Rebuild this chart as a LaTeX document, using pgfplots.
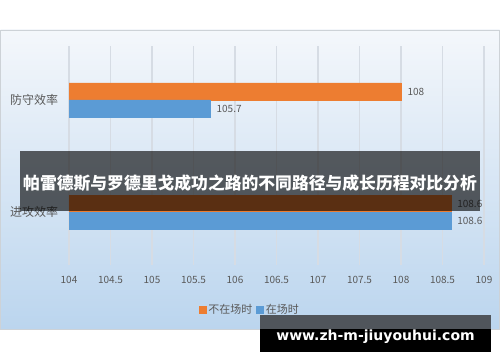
\documentclass[border=0pt]{standalone}
\usepackage{pgfplots}
\pgfplotsset{compat=1.18}
\usepackage{fontspec}
\setmainfont{Noto Sans CJK SC}
\newfontfamily\wmfont{DejaVu Sans}
\definecolor{c1}{RGB}{237,125,49}
\definecolor{c2}{RGB}{91,155,213}
\definecolor{txt}{RGB}{89,89,89}
\definecolor{bgtop}{RGB}{244,247,251}
\definecolor{bgbot}{RGB}{187,213,238}
\definecolor{frame}{RGB}{205,210,215}
\definecolor{gridc}{RGB}{214,220,228}
\definecolor{wmgray}{RGB}{80,85,91}
\begin{document}
\begin{tikzpicture}[x=1pt,y=1pt]
\useasboundingbox (0,0) rectangle (500,362);
\shade[top color=bgtop, bottom color=bgbot, draw=frame] (0.5,33) rectangle (499.5,332);
\begin{axis}[
  at={(69pt,97pt)}, anchor=south west,
  scale only axis, width=415pt, height=219pt,
  xbar, bar width=17pt,
  xmin=104, xmax=109, ymin=-0.473, ymax=1.482,
  xtick={104,104.5,...,109},
  ytick={0,1}, yticklabels={进攻效率,防守效率},
  /pgf/number format/assume math mode=true,
  /pgf/number format/fixed,
  xmajorgrids, major grid style={draw=gridc, line width=1.2pt},
  axis line style={draw=none}, tick style={draw=none},
  tick label style={text=txt},
  xticklabel style={font=\fontsize{10}{12}\selectfont, yshift=-8pt},
  yticklabel style={font=\fontsize{12}{14}\selectfont, xshift=-3pt},
  nodes near coords,
  nodes near coords style={font=\fontsize{10}{12}\selectfont, text=txt, anchor=west, xshift=3pt},
  legend columns=2,
  legend style={at={(0.436,-0.205)}, anchor=center, draw=none, fill=none, font=\fontsize{11}{13}\selectfont, text=txt, /tikz/every even column/.append style={column sep=2pt}},
  legend image code/.code={\fill[#1] (0pt,-3.5pt) rectangle (7pt,3.5pt);},
]
\addplot[fill=c1, draw=c1, bar shift=8.5pt] coordinates {(108.6,0) (108,1)};
\addplot[fill=c2, draw=c2, bar shift=-8.5pt] coordinates {(108.6,0) (105.7,1)};
\legend{不在场时,在场时}
\end{axis}
\fill[black, opacity=0.62] (20,151) rectangle (480,211);
\node[text=white, font=\fontsize{16.8}{19}\selectfont\bfseries] at (250,179) {帕雷德斯与罗德里戈成功之路的不同路径与成长历程对比分析};
\fill[wmgray] (260,33) rectangle (491,47);
\fill[black] (260,10) rectangle (491,33);
\node[text=white, font=\wmfont\bfseries\fontsize{14}{16}\selectfont] at (375.5,25) {www.zh-m-jiuyouhui.com};
\end{tikzpicture}
\end{document}
